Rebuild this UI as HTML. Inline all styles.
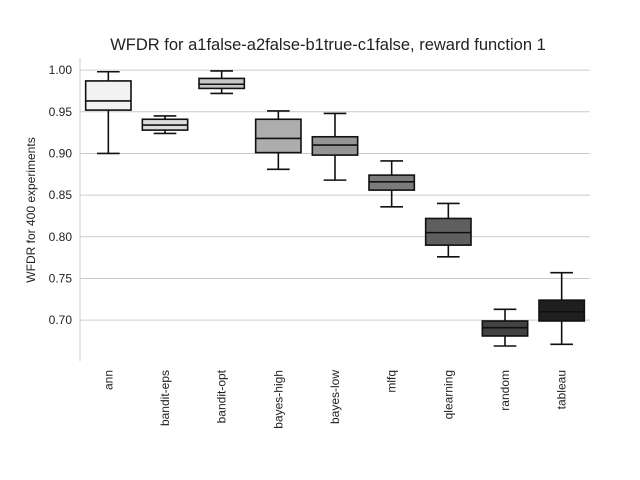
<!DOCTYPE html>
<html><head><meta charset="utf-8"><style>
body{margin:0;background:#fff}
svg{display:block;font-family:"Liberation Sans",sans-serif}
</style></head><body>
<svg id="chart" width="640" height="480">
<text x="328" y="50" text-anchor="middle" font-size="16.5" fill="#222">WFDR for a1false-a2false-b1true-c1false, reward function 1</text>
<text transform="translate(35,210) rotate(-90)" text-anchor="middle" font-size="12" fill="#222">WFDR for 400 experiments</text>
<g id="grid"></g><g id="boxes"></g><g id="axes"></g>
</svg>
<script>
const categories=["ann","bandit-eps","bandit-opt","bayes-high","bayes-low","mlfq","qlearning","random","tableau"];
const whiskerLow=[0.900,0.924,0.972,0.881,0.868,0.836,0.776,0.669,0.671];
const q1=[0.952,0.928,0.978,0.901,0.898,0.856,0.790,0.681,0.699];
const medians=[0.963,0.934,0.983,0.918,0.910,0.866,0.805,0.691,0.710];
const q3=[0.987,0.941,0.990,0.941,0.920,0.874,0.822,0.699,0.724];
const whiskerHigh=[0.998,0.945,0.999,0.951,0.948,0.891,0.840,0.713,0.757];
const yTicks=[0.70,0.75,0.80,0.85,0.90,0.95,1.00];
const fills=["#f2f2f2","#dcdcdc","#c6c6c6","#adadad","#959595","#7c7c7c","#5f5f5f","#424242","#1f1f1f"];
const NS="http://www.w3.org/2000/svg";
const L=80,R=590,T=58,B=361,ymin=0.651,ymax=1.0145;
const y=v=>B-(v-ymin)/(ymax-ymin)*(B-T);
const band=(R-L)/categories.length;
const x=i=>L+band*(i+0.5);
function mk(p,tag,a){const e=document.createElementNS(NS,tag);for(const k in a)e.setAttribute(k,a[k]);p.appendChild(e);return e;}
const grid=document.getElementById('grid'),boxes=document.getElementById('boxes'),axes=document.getElementById('axes');
yTicks.forEach(t=>{
 const g=mk(grid,'line',{x1:L,x2:R,y1:y(t),y2:y(t),stroke:'#cccccc','stroke-width':1});
 
 
 const tx=mk(axes,'text',{x:L-8,y:y(t)+4,'text-anchor':'end','font-size':12,fill:'#222'});
 tx.textContent=t.toFixed(2);
 
 
});
const sp=mk(axes,'line',{x1:L,x2:L,y1:T,y2:B,stroke:'#cccccc','stroke-width':1});


categories.forEach((c,i)=>{
 const cx=x(i),w=band*0.8,cw=w/2;
 const g=mk(boxes,'g',{stroke:'#111','stroke-width':1.6});
 
 
 mk(g,'line',{x1:cx,x2:cx,y1:y(whiskerHigh[i]),y2:y(q3[i])});
 mk(g,'line',{x1:cx,x2:cx,y1:y(q1[i]),y2:y(whiskerLow[i])});
 mk(g,'line',{x1:cx-cw/2,x2:cx+cw/2,y1:y(whiskerHigh[i]),y2:y(whiskerHigh[i])});
 mk(g,'line',{x1:cx-cw/2,x2:cx+cw/2,y1:y(whiskerLow[i]),y2:y(whiskerLow[i])});
 mk(g,'rect',{x:cx-w/2,y:y(q3[i]),width:w,height:y(q1[i])-y(q3[i]),fill:fills[i]});
 mk(g,'line',{x1:cx-w/2,x2:cx+w/2,y1:y(medians[i]),y2:y(medians[i])});
 const tx=mk(axes,'text',{transform:`translate(${cx+4},370) rotate(-90)`,'text-anchor':'end','font-size':12,fill:'#222'});
 tx.textContent=c;
 
 
});
</script>
</body></html>
